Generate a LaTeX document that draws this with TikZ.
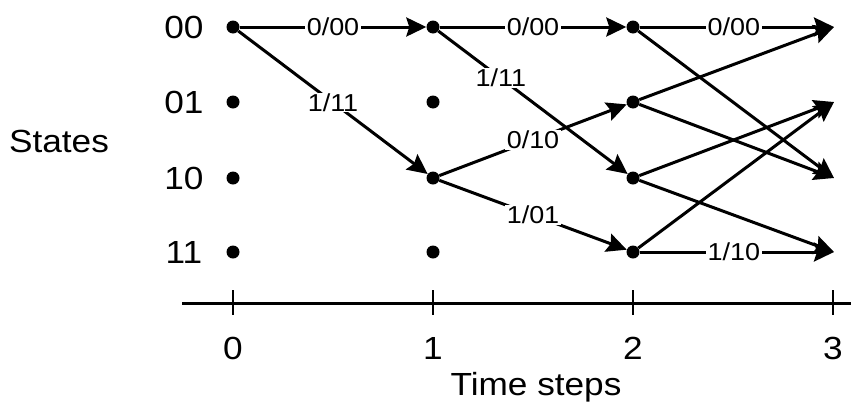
\documentclass[tikz,border=0pt]{standalone}
\usepackage{fontspec}
\setmainfont{Liberation Sans}[FakeStretch=1.1]
\usetikzlibrary{arrows.meta}
\begin{document}
\begin{tikzpicture}[x=1pt,y=-1pt,
  dot/.style={circle,fill=black,inner sep=0pt,minimum size=13pt},
  tr/.style={line width=3pt,-{Stealth[length=20pt,width=19pt,inset=3pt]}},
  lab/.style={fill=white,inner xsep=1.5pt,inner ysep=1pt,text height=17.5pt,text depth=0pt,font=\fontsize{24.5}{25}\selectfont},
  big/.style={font=\fontsize{32}{32}\selectfont,anchor=base,inner sep=0pt},
  axis/.style={line width=3pt},
  tick/.style={line width=1.5pt}]
\useasboundingbox (0,0) rectangle (851,402);
% state nodes
\node[dot] (n0a) at (233,27) {};
\node[dot] (n0b) at (233,102) {};
\node[dot] (n0c) at (233,178) {};
\node[dot] (n0d) at (233,252) {};
\node[dot] (n1a) at (433,27) {};
\node[dot] (n1b) at (433,102) {};
\node[dot] (n1c) at (433,178) {};
\node[dot] (n1d) at (433,252) {};
\node[dot] (n2a) at (633,27) {};
\node[dot] (n2b) at (633,102) {};
\node[dot] (n2c) at (633,178) {};
\node[dot] (n2d) at (633,252) {};
\coordinate (t3a) at (834,27);
\coordinate (t3b) at (834,102);
\coordinate (t3c) at (834,178);
\coordinate (t3d) at (834,252);
% transitions
\draw[tr] (n2a) -- (t3c);
\draw[tr] (n2b) -- (t3a);
\draw[tr] (n2b) -- (t3c);
\draw[tr] (n2c) -- (t3b);
\draw[tr] (n2c) -- (t3d);
\draw[tr] (n2d) -- (t3b);
\draw[tr] (n0a) -- node[lab]{0/00} (n1a);
\draw[tr] (n0a) -- node[lab]{1/11} (n1c);
\draw[tr] (n1a) -- node[lab]{0/00} (n2a);
\draw[tr] (n1a) -- node[lab,pos=0.33]{1/11} (n2c);
\draw[tr] (n1c) -- node[lab]{0/10} (n2b);
\draw[tr] (n1c) -- node[lab]{1/01} (n2d);
\draw[tr] (n2a) -- node[lab,pos=0.485]{0/00} (t3a);
\draw[tr] (n2d) -- node[lab,pos=0.485]{1/10} (t3d);
% state labels
\node[big] (s00) at (184,38.5) {00};
\node[big] (s01) at (184,113.5) {01};
\node[big] (s10) at (184,189.5) {10};
\node[big] (s11) at (184,263.5) {11};
\node[big] (states) at (59,152) {States};
% time axis
\coordinate (axL) at (182,303);
\coordinate (axR) at (851,303);
\draw[axis] (axL) -- (axR);
\foreach \x in {233,433,633,833} \draw[tick] (\x,290) -- (\x,315);
\node[big] (k0) at (233,359) {0};
\node[big] (k1) at (433,359) {1};
\node[big] (k2) at (633,359) {2};
\node[big] (k3) at (833,359) {3};
\node[big] (tsteps) at (536,395) {Time steps};
\end{tikzpicture}
\end{document}
